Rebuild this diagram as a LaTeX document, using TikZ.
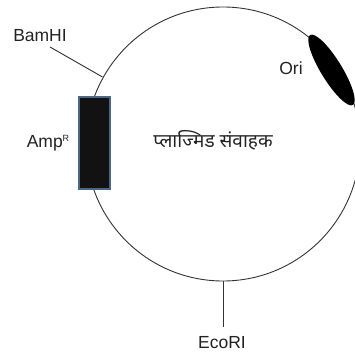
\documentclass[tikz,border=0pt]{standalone}
\usepackage{fontspec}
\usetikzlibrary{shapes.geometric}
\setmainfont{Liberation Sans}
\newfontfamily\devfont[Script=Devanagari]{Noto Sans}
\definecolor{txt}{HTML}{222222}
\definecolor{boxedge}{HTML}{4A6688}
\begin{document}
\begin{tikzpicture}[x=1pt,y=-1pt,
  lbl/.style={inner sep=0pt, text=txt, font=\fontsize{17.5}{19}\selectfont},
  wire/.style={draw=black!80, line width=0.9pt}]
\useasboundingbox (0,0) rectangle (355,358);
% plasmid circle
\draw[wire] (223,144) circle[radius=137];
% AmpR box
\node[draw=boxedge, fill=black!93, line width=1.2pt, minimum width=31pt, minimum height=92pt, inner sep=0pt] (amp) at (94.5,143) {};
% Ori ellipse
\node[fill=black, ellipse, minimum width=82pt, minimum height=21pt, inner sep=0pt, rotate=-58.5] (ori) at (331.5,70) {};
% labels
\node[lbl] (bamhi) at (40,36) {BamHI};
\node[lbl] (amplbl) at (48,143) {Amp\raisebox{6pt}{\fontsize{9}{10}\selectfont R}};
\node[lbl] (orilbl) at (291,68) {Ori};
\node[lbl] (ecori) at (222,343) {EcoRI};
\node[lbl, font=\devfont\fontsize{19}{21}\selectfont] (title) at (213,140) {प्लाज्मिड संवाहक};
% site connectors
\coordinate (bamstart) at (50,47);
\coordinate (bamsite) at (102.5,77);
\coordinate (ecosite) at (223,281);
\coordinate (ecoend) at (223,327);
\draw[wire] (bamstart) -- (bamsite);
\draw[wire] (ecosite) -- (ecoend);
\end{tikzpicture}
\end{document}
